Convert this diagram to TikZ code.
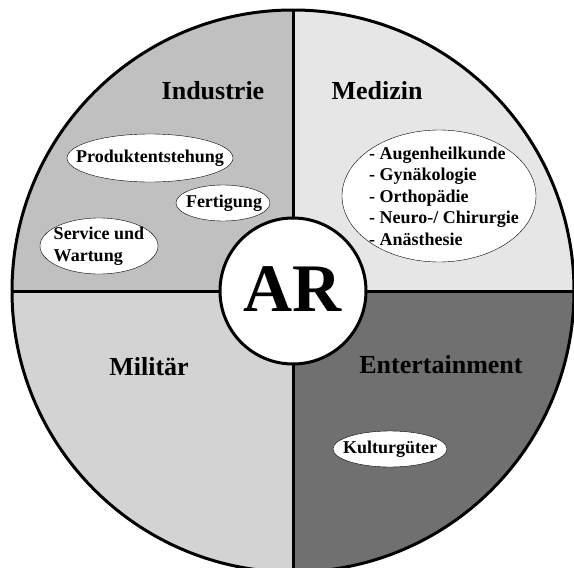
\documentclass[tikz,border=0pt]{standalone}
\usepackage{fontspec}
\setmainfont{Liberation Serif}
\definecolor{ARIndustrie}{HTML}{C0C0C0}
\definecolor{ARMedizin}{HTML}{E6E6E6}
\definecolor{ARMilitaer}{HTML}{D3D3D3}
\definecolor{AREntertain}{HTML}{707070}
\begin{document}
\begin{tikzpicture}[x=1pt, y=-1pt,
  bereich/.style={font=\fontsize{26}{28}\selectfont\bfseries},
  feldrand/.style={draw, thin, fill=white},
  feld/.style={inner sep=0pt, font=\fontsize{18}{21.5}\selectfont\bfseries}]
\useasboundingbox (0,0) rectangle (574,568);
\clip (0,0) rectangle (574,568);
% quadrants
\begin{scope}
\clip (293,291) circle[radius=281];
\fill[ARIndustrie] (0,0) rectangle (293,291);
\fill[ARMedizin] (293,0) rectangle (574,291);
\fill[ARMilitaer] (0,291) rectangle (293,580);
\fill[AREntertain] (293,291) rectangle (574,580);
\end{scope}
\draw[line width=3pt] (293,291) circle[radius=281];
\coordinate (oben) at (293,10);
\coordinate (unten) at (293,574);
\coordinate (links) at (12,291);
\coordinate (rechts) at (574,291);
\node[circle, minimum size=146pt] (ar) at (293,291) {};
\draw[line width=3pt] (ar) -- (oben);
\draw[line width=3pt] (ar) -- (unten);
\draw[line width=3pt] (ar) -- (links);
\draw[line width=3pt] (ar) -- (rechts);
\node[circle, draw, line width=3pt, fill=white, minimum size=146pt, inner sep=0pt,
  font=\fontsize{68}{70}\selectfont\bfseries] (arText) at (293,291) {\raisebox{4pt}{AR}};
% titles
\node[bereich] (industrie) at (213,91) {Industrie};
\node[bereich] (medizin) at (377,91) {Medizin};
\node[bereich] (militaer) at (149,367) {Militär};
\node[bereich] (entertainment) at (441,365) {Entertainment};
% fields
\draw[feldrand] (150,158) ellipse[x radius=83, y radius=24];
\node[feld] (produkt) at (150,158) {Produktentstehung};
\draw[feldrand] (223,203) ellipse[x radius=47, y radius=18];
\node[feld] (fertigung) at (224,203) {Fertigung};
\draw[feldrand] (99,246) ellipse[x radius=59, y radius=28];
\node[feld, align=left] (service) at (99,246) {Service und\\Wartung};
\draw[feldrand] (439,196) ellipse[x radius=97, y radius=66];
\node[feld, align=left] (fachgebiete) at (444,196)
  {- Augenheilkunde\\- Gynäkologie\\- Orthopädie\\- Neuro-/ Chirurgie\\- Anästhesie};
\draw[feldrand] (390,449) ellipse[x radius=57, y radius=18];
\node[feld] (kultur) at (390,449) {Kulturgüter};
\end{tikzpicture}
\end{document}
